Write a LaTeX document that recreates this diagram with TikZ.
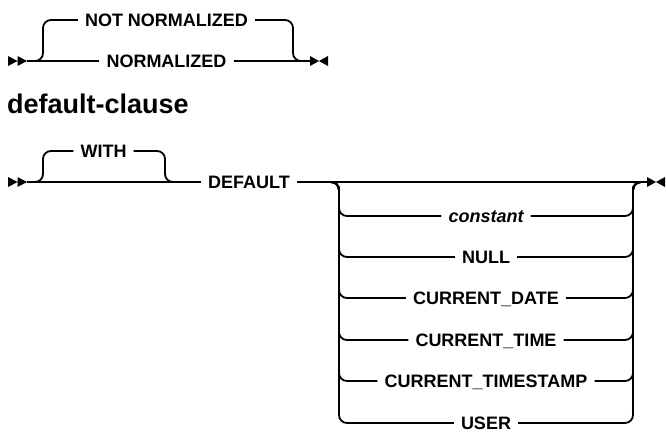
\documentclass[tikz,border=0pt]{standalone}
\usepackage{fontspec}
\setmainfont{Liberation Sans}
\usepackage{tikz}
\tikzset{
  kwbox/.style={inner sep=7pt,text height=13pt,text depth=0pt,font=\bfseries\fontsize{18}{20}\selectfont},
  varbox/.style={kwbox,font=\bfseries\itshape\fontsize{18}{20}\selectfont},
  titlebox/.style={inner sep=0pt,anchor=base west,font=\bfseries\fontsize{27}{30}\selectfont},
  rail/.style={line width=1.8pt,rounded corners=8pt},
  startmark/.pic={\fill (-19,-5) -- (-19,5) -- (-9.5,0) -- cycle (-9.5,-5) -- (-9.5,5) -- (0,0) -- cycle;},
  endmark/.pic={\fill (0,-5) -- (0,5) -- (9,0) -- cycle (18,-5) -- (18,5) -- (9,0) -- cycle;}
}

\begin{document}
\begin{tikzpicture}[x=1pt,y=-1pt]
  \useasboundingbox (0,0) rectangle (666,432);

  % NORMALIZED choice
  \coordinate (top in) at (27,61);
  \coordinate (top join) at (303,61);
  \coordinate (top out) at (310,61);
  \node[kwbox] (notnorm) at (166.5,20) {NOT NORMALIZED};
  \node[kwbox] (norm) at (166.5,61) {NORMALIZED};
  \pic at (top in) {startmark};
  \pic at (top out) {endmark};

  \draw[rail] (top in) -- (norm.west);
  \draw[rail] (norm.east) -- (top out);
  \draw[rail] (top in) -| ++(16,-41) -- (notnorm.west);
  \draw[rail] (notnorm.east) -| ([xshift=-10pt]top join) -- (top join);

  % default-clause
  \node[titlebox] (title) at (7,113) {default-clause};

  \coordinate (def in) at (27,182);
  \coordinate (with join) at (175,182);
  \coordinate (opt split) at (329,182);
  \coordinate (stack left) at (339,182);
  \coordinate (stack right) at (633,182);
  \coordinate (opt join) at (643,182);
  \coordinate (def out) at (647,182);
  \node[kwbox] (with) at (103.5,151) {WITH};
  \node[kwbox] (default) at (249,182) {DEFAULT};
  \node[varbox] (constant) at (486,216) {constant};
  \node[kwbox] (nullkw) at (486,257) {NULL};
  \node[kwbox] (curdate) at (486,298) {CURRENT\_DATE};
  \node[kwbox] (curtime) at (486,340) {CURRENT\_TIME};
  \node[kwbox] (curstamp) at (486,381) {CURRENT\_TIMESTAMP};
  \node[kwbox] (userkw) at (486,423) {USER};
  \pic at (def in) {startmark};
  \pic at (def out) {endmark};

  \draw[rail] (def in) -- (default.west);
  \draw[rail] (def in) -| ++(16,-31) -- (with.west);
  \draw[rail] (with.east) -| ([xshift=-10pt]with join) -- (with join);
  \draw[rail] (default.east) -- (def out);

  \draw[rail] (opt split) -| (stack left |- constant.west) -- (constant.west) (constant.east) -| (stack right) -- (opt join);
  \draw[rail] (opt split) -| (stack left |- nullkw.west) -- (nullkw.west) (nullkw.east) -| (stack right) -- (opt join);
  \draw[rail] (opt split) -| (stack left |- curdate.west) -- (curdate.west) (curdate.east) -| (stack right) -- (opt join);
  \draw[rail] (opt split) -| (stack left |- curtime.west) -- (curtime.west) (curtime.east) -| (stack right) -- (opt join);
  \draw[rail] (opt split) -| (stack left |- curstamp.west) -- (curstamp.west) (curstamp.east) -| (stack right) -- (opt join);
  \draw[rail] (opt split) -| (stack left |- userkw.west) -- (userkw.west) (userkw.east) -| (stack right) -- (opt join);
\end{tikzpicture}
\end{document}
